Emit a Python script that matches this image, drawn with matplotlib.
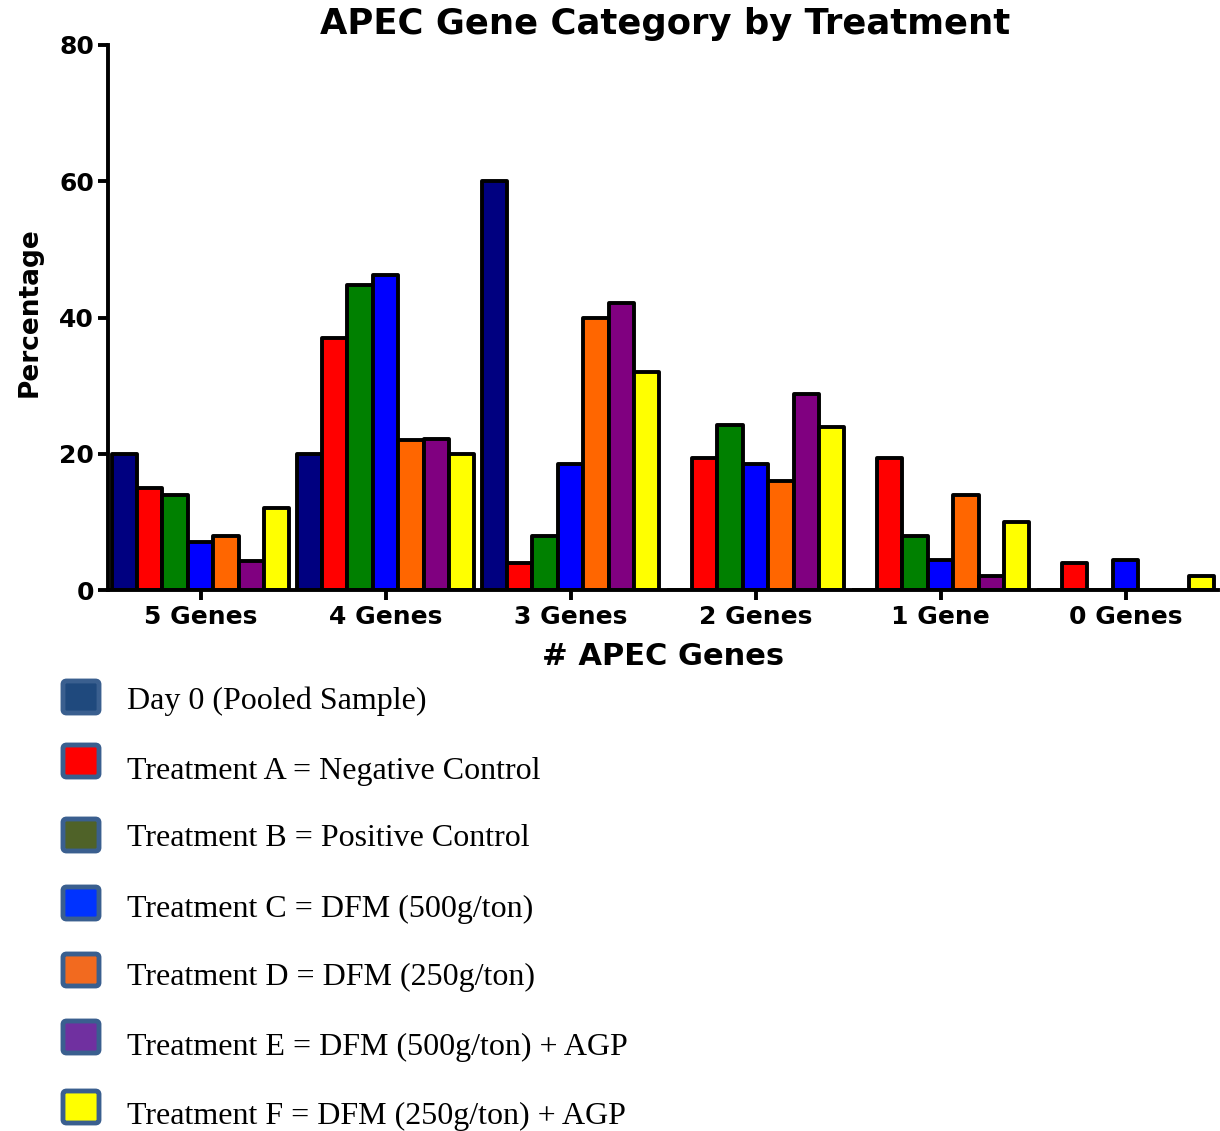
import matplotlib
matplotlib.use('Agg')
import matplotlib.pyplot as plt
import numpy as np
from matplotlib.patches import FancyBboxPatch

categories = ["5 Genes", "4 Genes", "3 Genes", "2 Genes", "1 Gene", "0 Genes"]
series_names = ["Day 0 (Pooled Sample)",
                "Treatment A = Negative Control",
                "Treatment B = Positive Control",
                "Treatment C = DFM (500g/ton)",
                "Treatment D = DFM (250g/ton)",
                "Treatment E = DFM (500g/ton) + AGP",
                "Treatment F = DFM (250g/ton) + AGP"]

day0 = [20, 20, 60, 0, 0, 0]
trt_a = [15, 37, 4, 19.4, 19.4, 4]
trt_b = [14, 44.7, 8, 24.2, 8, 0]
trt_c = [7, 46.3, 18.5, 18.5, 4.4, 4.4]
trt_d = [8, 22, 40, 16, 14, 0]
trt_e = [4.3, 22.2, 42.1, 28.7, 2, 0]
trt_f = [12, 20, 32, 24, 10, 2]
series = [day0, trt_a, trt_b, trt_c, trt_d, trt_e, trt_f]

bar_colors = ["#000080", "#FF0000", "#008000", "#0000FF", "#FF6600", "#800080", "#FFFF00"]
legend_colors = ["#1F497D", "#FF0000", "#4F6228", "#0033FF", "#F26A1F", "#7030A0", "#FFFF00"]

fig = plt.figure(figsize=(12.2, 11.31), dpi=100)
ax = fig.add_axes([108 / 1220, 1 - 590 / 1131, 1110 / 1220, 545 / 1131])

x = np.arange(len(categories))
width = 0.137
for i, vals in enumerate(series):
    offs = (i - 3) * width
    ax.bar(x + offs, vals, width, color=bar_colors[i], edgecolor="black",
           linewidth=2.8, joinstyle="round", zorder=2)

ax.set_xlim(-0.5, 5.5)
ax.set_ylim(0, 80)
ax.set_yticks([0, 20, 40, 60, 80])
ax.set_xticks(x)
ax.set_xticklabels(categories)
for s in ["top", "right"]:
    ax.spines[s].set_visible(False)
ax.spines["left"].set_linewidth(2.8)
ax.spines["bottom"].set_linewidth(2.8)
ax.spines["left"].set_bounds(0, 80)
ax.tick_params(axis="both", width=2.8, length=7, labelsize=18, pad=3)
ax.tick_params(axis="x", pad=4)
for lab in ax.get_xticklabels() + ax.get_yticklabels():
    lab.set_fontweight("bold")

ax.set_xlabel("# APEC Genes", fontsize=22, fontweight="bold")
ax.xaxis.set_label_coords(0.5, -(642 - 590) / 545)
ax.set_ylabel("Percentage", fontsize=19, fontweight="bold")
ax.yaxis.set_label_coords(-0.059, 0.51)
fig.text(665 / 1220, 1 - 24 / 1131, "APEC Gene Category by Treatment",
         ha="center", va="center", fontsize=25.5, fontweight="bold")

# legend drawn by hand below the axes
W, H = 1220, 1131
text_y = [701, 771, 839, 909, 977, 1047, 1116]
swatch_y = [697, 761, 835, 903, 970, 1037, 1107]
for name, col, ty, sy in zip(series_names, legend_colors, text_y, swatch_y):
    box = FancyBboxPatch((63 / W, 1 - (sy + 16) / H), 36 / W, 32 / H,
                         boxstyle="round,pad=0,rounding_size=0.003",
                         transform=fig.transFigure, facecolor=col,
                         edgecolor="#3A5F8F", linewidth=3.5)
    fig.add_artist(box)
    fig.text(127 / W, 1 - ty / H, name, ha="left", va="center",
             fontsize=23, family="Liberation Serif")

fig.savefig("out.png", dpi=100)
